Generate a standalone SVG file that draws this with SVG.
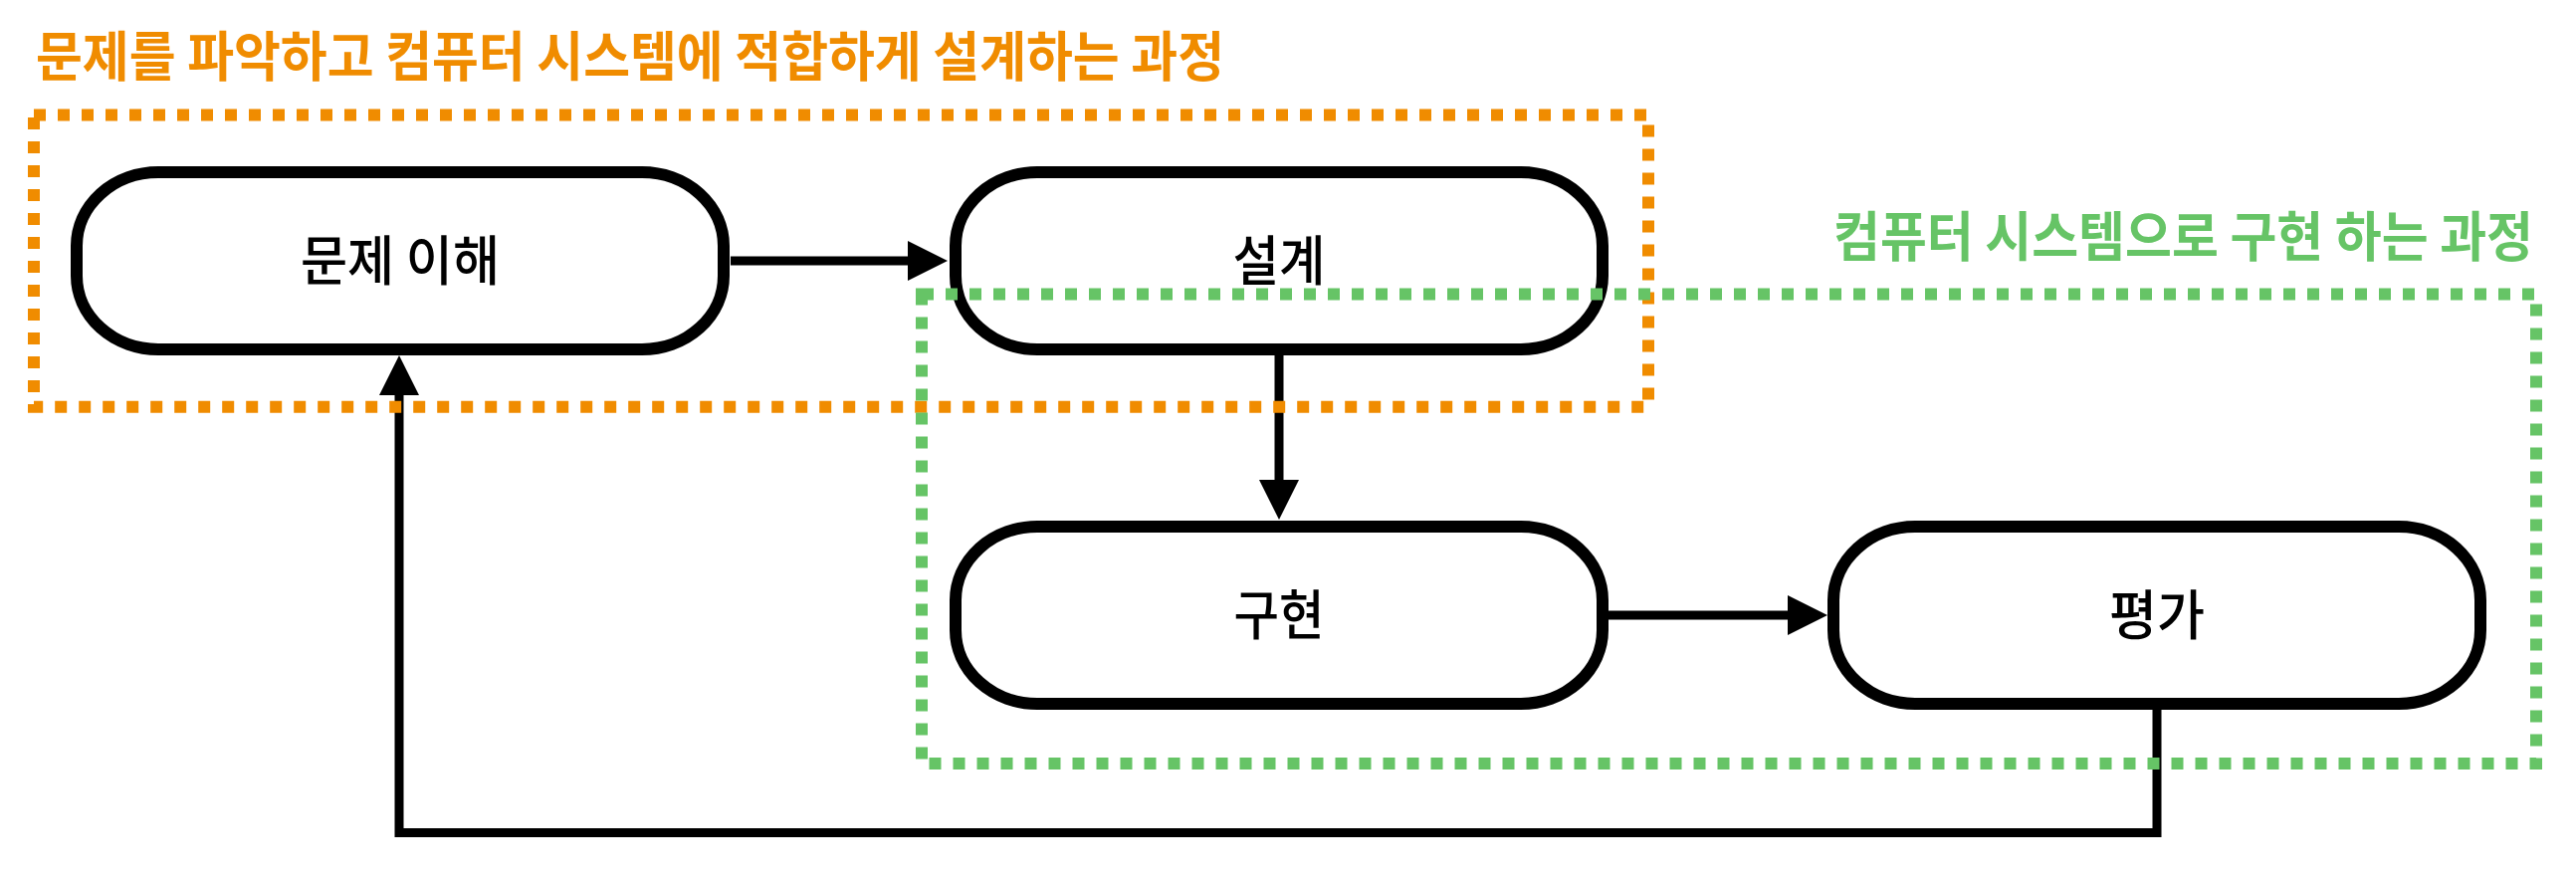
<svg xmlns="http://www.w3.org/2000/svg" width="2588" height="884" viewBox="0 0 2588 884">
  <style>
    .node rect { fill: #ffffff; stroke: #000000; stroke-width: 12; }
    .node text { font-family: "Noto Sans CJK KR", "Noto Sans", sans-serif; font-size: 54px; font-weight: 500; fill: #000000; text-anchor: middle; }
    .conn { fill: none; stroke: #000000; stroke-width: 9; stroke-linejoin: miter; }
    .grp { fill: none; stroke-width: 12; stroke-dasharray: 12 12; }
    .title { font-family: "Noto Sans CJK KR", "Noto Sans", sans-serif; font-size: 54px; font-weight: 700; }
  </style>
  <defs>
    <marker id="arrow" markerUnits="userSpaceOnUse" markerWidth="40" markerHeight="40" viewBox="0 0 39 39" refX="0" refY="19.5" orient="auto">
      <path d="M0,0 L39,19.5 L0,39 Z" fill="#000000"/>
    </marker>
  </defs>
  <rect width="2588" height="884" fill="#ffffff"/>

  <g id="connectors">
    <path class="conn" d="M734,262 L912,262" marker-end="url(#arrow)"/>
    <path class="conn" d="M1285,357 L1285,482" marker-end="url(#arrow)"/>
    <path class="conn" d="M1615,618 L1796,618" marker-end="url(#arrow)"/>
    <path class="conn" d="M2167,713 L2167,836.5 L401,836.5 L401,397" marker-end="url(#arrow)"/>
  </g>

  <g id="node-problem" class="node">
    <rect x="77" y="173" width="650" height="178" rx="82" ry="74"/>
    <text x="402" y="282" textLength="200" lengthAdjust="spacingAndGlyphs">문제 이해</text>
  </g>
  <g id="node-design" class="node">
    <rect x="960" y="173" width="650" height="178" rx="82" ry="74"/>
    <text x="1285" y="282" textLength="93" lengthAdjust="spacingAndGlyphs">설계</text>
  </g>
  <g id="node-implement" class="node">
    <rect x="960" y="529" width="650" height="178" rx="82" ry="74"/>
    <text x="1285" y="638" textLength="91" lengthAdjust="spacingAndGlyphs">구현</text>
  </g>
  <g id="node-evaluate" class="node">
    <rect x="1842" y="529" width="650" height="178" rx="82" ry="74"/>
    <text x="2167" y="638" textLength="96" lengthAdjust="spacingAndGlyphs">평가</text>
  </g>

  <g id="group-design">
    <rect class="grp" x="34" y="115.5" width="1622" height="293.2" stroke="#F08C00"/>
    <text class="title" x="36" y="77" fill="#F08C00" textLength="1194" lengthAdjust="spacingAndGlyphs">문제를 파악하고 컴퓨터 시스템에 적합하게 설계하는 과정</text>
  </g>
  <g id="group-implement">
    <rect class="grp" x="926" y="295.5" width="1622" height="471.5" stroke="#66C466"/>
    <text class="title" x="1842" y="258" fill="#66C466" textLength="703" lengthAdjust="spacingAndGlyphs">컴퓨터 시스템으로 구현 하는 과정</text>
  </g>
</svg>
